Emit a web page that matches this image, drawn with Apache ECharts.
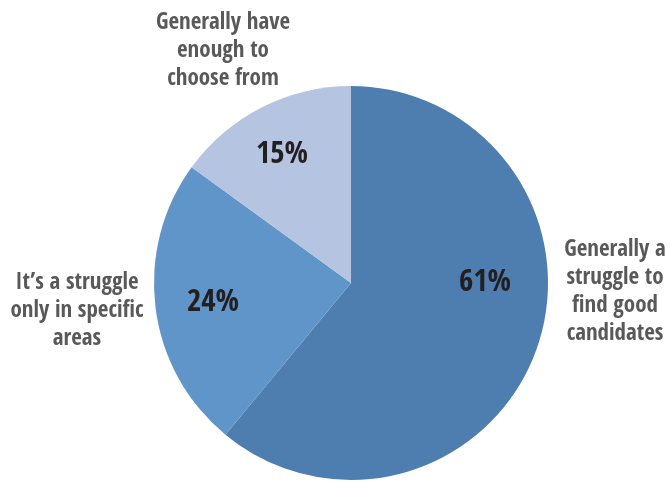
<!DOCTYPE html>
<html>
<head>
<meta charset="utf-8">
<script src="https://cdn.jsdelivr.net/npm/echarts@6/dist/echarts.min.js"></script>
<style>
  html, body { margin: 0; padding: 0; background: #fff; }
  #chart { width: 670px; height: 483px; }
</style>
</head>
<body>
<div id="chart"></div>
<script>
// Survey answers, in clockwise order starting at 12 o'clock
const categories = [
  'Generally a\nstruggle to\nfind good\ncandidates',
  'It\u2019s a struggle\nonly in specific\nareas',
  'Generally have\nenough to\nchoose from'
];
const shares = [61, 24, 15];
const sliceColors = ['#4e7eb0', '#5f95c9', '#b5c4e0'];

// Where each category caption sits (centre of the text block)
const captionAnchors = [
  { x: 615, y: 292 },
  { x: 77, y: 311 },
  { x: 223, y: 51 }
];
// Where each percentage sits inside its slice
const valueAnchors = [
  { x: 485, y: 283 },
  { x: 213, y: 303 },
  { x: 282, y: 155 }
];

const FONT = "'Open Sans Condensed', 'Liberation Sans Narrow', 'DejaVu Sans Condensed', sans-serif";

const data = categories.map((name, i) => ({
  name: name,
  value: shares[i],
  itemStyle: { color: sliceColors[i] }
}));

const chart = echarts.init(document.getElementById('chart'), null, { renderer: 'canvas' });
chart.setOption({
  animation: false,
  series: [
    {
      // slices with their percentage printed inside
      type: 'pie',
      center: [351, 283],
      radius: [0, 197],
      startAngle: 90,
      clockwise: true,
      data: data,
      itemStyle: { borderWidth: 0 },
      label: {
        position: 'inside',
        formatter: p => p.value + '%',
        color: '#231f20',
        fontFamily: FONT,
        fontWeight: 'bold',
        fontSize: 31
      },
      labelLayout: (params) => {
        const o = valueAnchors[params.dataIndex];
        return { x: o.x, y: o.y, align: 'center', verticalAlign: 'middle' };
      },
      emphasis: { disabled: true }
    },
    {
      // caption layer: same slices, invisible, carries the category names
      type: 'pie',
      center: [351, 283],
      radius: [0, 197],
      startAngle: 90,
      clockwise: true,
      silent: true,
      data: categories.map((name, i) => ({ name: name, value: shares[i] })),
      itemStyle: { color: 'rgba(0,0,0,0)' },
      label: {
        position: 'outside',
        formatter: '{b}',
        color: '#595959',
        fontFamily: FONT,
        fontWeight: 'bold',
        fontSize: 23,
        lineHeight: 28,
        align: 'center',
        overflow: 'none',
        width: 200
      },
      labelLine: { show: false },
      labelLayout: (params) => {
        const a = captionAnchors[params.dataIndex];
        return { x: a.x, y: a.y, align: 'center', verticalAlign: 'middle' };
      },
      emphasis: { disabled: true }
    }
  ]
});
</script>
</body>
</html>
